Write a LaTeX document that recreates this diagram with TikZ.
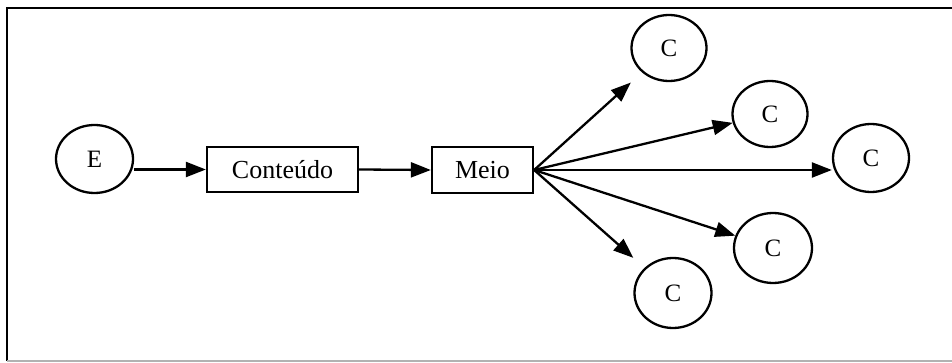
\documentclass[tikz,border=0pt]{standalone}
\usepackage{fontspec}
\setmainfont{Liberation Serif}
\usetikzlibrary{arrows.meta,shapes.geometric}
\tikzset{
  x=1pt, y=1pt,
  ln/.style={line width=2.3pt},
  arr/.style={ln, -{Triangle[length=20pt,width=15pt]}},
  circ/.style={ellipse, draw, ln, inner sep=0pt, font=\fontsize{25}{25}\selectfont},
  boxn/.style={rectangle, draw, ln, inner sep=0pt, font=\fontsize{26}{26}\selectfont},
}
\begin{document}
\begin{tikzpicture}
\useasboundingbox (0,0) rectangle (952,-363);
\clip (0,0) rectangle (952,-363);
\fill[white] (0,0) rectangle (952,-363);
% frame
\draw[line width=2pt] (970,-8) -- (7,-8) -- (7,-361);
\draw[line width=1.5pt, gray!60] (7,-361) -- (970,-361);
% nodes
\node[circ, minimum width=77pt, minimum height=68pt] (e) at (94.5,-159) {E};
\node[boxn, minimum width=151pt, minimum height=45pt] (cont) at (282.5,-169.5) {Conteúdo};
\node[boxn, minimum width=101pt, minimum height=46pt] (meio) at (482.5,-170) {Meio};
\node[circ, minimum width=75pt, minimum height=66pt] (c1) at (669,-48) {C};
\node[circ, minimum width=75pt, minimum height=66pt] (c2) at (770,-114) {C};
\node[circ, minimum width=76pt, minimum height=68pt] (c3) at (871,-158) {C};
\node[circ, minimum width=78pt, minimum height=70pt] (c4) at (773,-248) {C};
\node[circ, minimum width=77pt, minimum height=70pt] (c5) at (673,-293) {C};
% connectors
\draw[arr] (cont.west -| e.east) -- (cont.west);
\draw[arr] (cont.east) -- (meio.west);
\draw[arr, shorten >=15pt] (meio.east) -- (c1);
\draw[arr] (meio.east) -- (c2);
\draw[arr] (meio.east) -- (meio.east -| c3.west);
\draw[arr] (meio.east) -- (c4);
\draw[arr, shorten >=15pt] (meio.east) -- (c5);
\end{tikzpicture}
\end{document}
